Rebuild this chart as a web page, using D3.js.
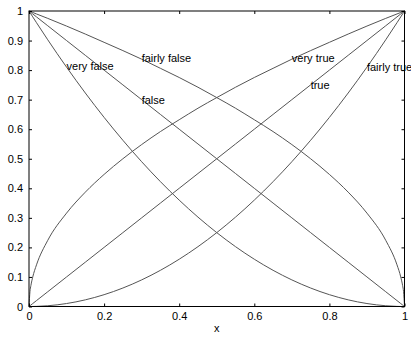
<!DOCTYPE html>
<html><head><meta charset="utf-8">
<script src="https://cdn.jsdelivr.net/npm/d3@7"></script>
<style>body{margin:0;background:#fff}svg{display:block}text{font-family:"Liberation Sans",Arial,sans-serif}</style>
</head><body><svg id="c" width="411" height="339"></svg>
<script>
const xs = [0,0.0025,0.005,0.01,0.02,0.05,0.1,0.15,0.2,0.25,0.3,0.35,0.4,0.45,0.5,0.55,0.6,0.65,0.7,0.75,0.8,0.85,0.9,0.95,0.98,0.99,0.995,0.9975,1];
const trueVals = [0,0.0025,0.005,0.01,0.02,0.05,0.1,0.15,0.2,0.25,0.3,0.35,0.4,0.45,0.5,0.55,0.6,0.65,0.7,0.75,0.8,0.85,0.9,0.95,0.98,0.99,0.995,0.9975,1];
const veryTrue = [0,0.00001,0.00003,0.0001,0.0004,0.0025,0.01,0.0225,0.04,0.0625,0.09,0.1225,0.16,0.2025,0.25,0.3025,0.36,0.4225,0.49,0.5625,0.64,0.7225,0.81,0.9025,0.9604,0.9801,0.990,0.995,1];
const fairlyTrue = [0,0.05,0.0707,0.1,0.141,0.224,0.316,0.387,0.447,0.5,0.548,0.592,0.632,0.671,0.707,0.742,0.775,0.806,0.837,0.866,0.894,0.922,0.949,0.975,0.990,0.995,0.9975,0.9987,1];
const falseVals = [1,0.9975,0.995,0.99,0.98,0.95,0.9,0.85,0.8,0.75,0.7,0.65,0.6,0.55,0.5,0.45,0.4,0.35,0.3,0.25,0.2,0.15,0.1,0.05,0.02,0.01,0.005,0.0025,0];
const veryFalse = [1,0.995,0.990,0.9801,0.9604,0.9025,0.81,0.7225,0.64,0.5625,0.49,0.4225,0.36,0.3025,0.25,0.2025,0.16,0.1225,0.09,0.0625,0.04,0.0225,0.01,0.0025,0.0004,0.0001,0.00003,0.00001,0];
const fairlyFalse = [1,0.9987,0.9975,0.995,0.990,0.975,0.949,0.922,0.894,0.866,0.837,0.806,0.775,0.742,0.707,0.671,0.632,0.592,0.548,0.5,0.447,0.387,0.316,0.224,0.141,0.1,0.0707,0.05,0];
const xTicks = [0,0.2,0.4,0.6,0.8,1];
const yTicks = [0,0.1,0.2,0.3,0.4,0.5,0.6,0.7,0.8,0.9,1];
const labelNames = ["very false","fairly false","false","very true","true","fairly true"];
const labelX = [0.1,0.3,0.3,0.7,0.75,0.9];
const labelY = [0.815,0.84,0.70,0.84,0.75,0.81];

const svg = d3.select("#c");
const L=29, R=404.5, T=11, B=306.5;
const x = d3.scaleLinear().domain([0,1]).range([L,R]);
const y = d3.scaleLinear().domain([0,1]).range([B,T]);

const series=[trueVals,veryTrue,fairlyTrue,falseVals,veryFalse,fairlyFalse];
const line=d3.line().x((d,i)=>x(xs[i])).y(d=>y(d)).curve(d3.curveMonotoneX);
svg.append("g").selectAll("path").data(series).join("path")
  .attr("d",line).attr("fill","none").attr("stroke","#555").attr("stroke-width",1);

const fmt = d=> d===0?"0":d===1?"1":String(d);
const ax=(g)=>g.call(s=>s.select(".domain").remove()).call(s=>s.selectAll("text").attr("font-size",11).attr("fill","#000"));
svg.append("g").attr("transform",`translate(0,${B})`)
  .call(d3.axisBottom(x).tickValues(xTicks).tickFormat(fmt).tickSize(-3).tickPadding(6)).call(ax);
svg.append("g").attr("transform",`translate(0,${T})`)
  .call(d3.axisTop(x).tickValues(xTicks).tickFormat("").tickSize(-3)).call(ax);
svg.append("g").attr("transform",`translate(${L},0)`)
  .call(d3.axisLeft(y).tickValues(yTicks).tickFormat(fmt).tickSize(-3).tickPadding(6)).call(ax);
svg.append("g").attr("transform",`translate(${R},0)`)
  .call(d3.axisRight(y).tickValues(yTicks).tickFormat("").tickSize(-3)).call(ax);
svg.selectAll(".tick line").attr("stroke","#000");
svg.append("rect").attr("x",L).attr("y",T).attr("width",R-L).attr("height",B-T)
  .attr("fill","none").attr("stroke","#000").attr("stroke-width",1);

svg.append("g").selectAll("text").data(labelNames).join("text")
  .attr("x",(d,i)=>x(labelX[i])).attr("y",(d,i)=>y(labelY[i]))
  .attr("dy","0.35em").attr("font-size",11).attr("fill","#000").text(d=>d);

svg.append("text").attr("x",(L+R)/2).attr("y",332).attr("text-anchor","middle")
  .attr("font-size",11).text("x");
</script></body></html>
